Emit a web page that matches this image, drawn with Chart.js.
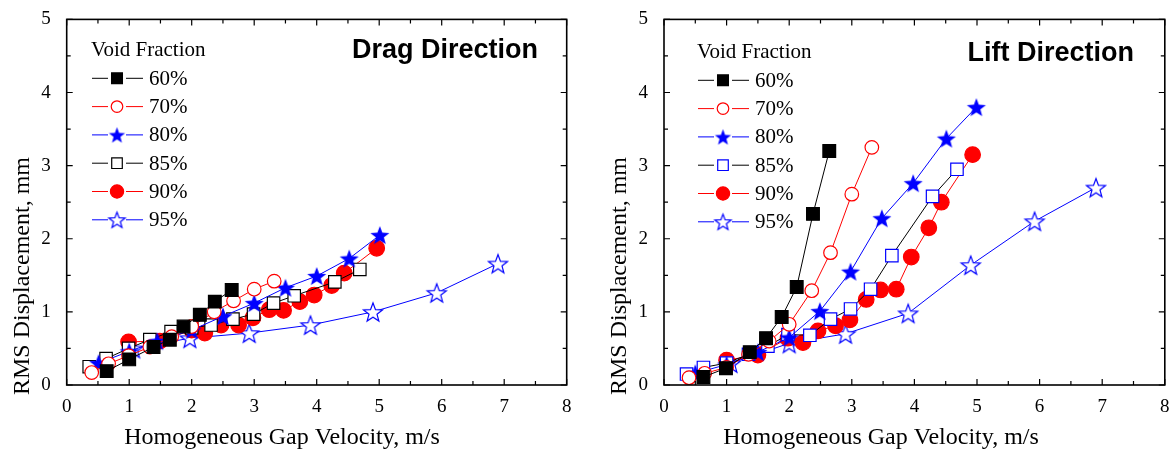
<!DOCTYPE html>
<html>
<head>
<meta charset="utf-8">
<script src="https://cdn.jsdelivr.net/npm/chart.js@4.4.0/dist/chart.umd.min.js"></script>
<style>
  html, body { margin: 0; padding: 0; background: #fff; }
  #wrap { position: relative; width: 1176px; height: 456px; }
  .panel { position: absolute; top: 0; width: 588px; height: 456px; }
</style>
</head>
<body>
<div id="wrap">
  <div class="panel" style="left:0"><canvas id="graficaDrag"></canvas></div>
  <div class="panel" style="left:588px"><canvas id="graficaLift"></canvas></div>
</div>
<script>
// series labels
const fracciones = ['60%', '70%', '80%', '85%', '90%', '95%'];

// Drag direction: velocity (m/s) and RMS displacement (mm)
const dragV60 = [0.64, 1.0, 1.39, 1.65, 1.87, 2.13, 2.37, 2.64];
const dragD60 = [0.19, 0.35, 0.52, 0.62, 0.80, 0.96, 1.14, 1.30];
const dragV70 = [0.40, 0.67, 0.99, 1.33, 1.68, 2.0, 2.36, 2.67, 3.0, 3.32];
const dragD70 = [0.17, 0.29, 0.40, 0.52, 0.66, 0.80, 1.0, 1.15, 1.31, 1.42];
const dragV80 = [0.51, 1.0, 1.45, 2.0, 2.5, 3.0, 3.5, 4.0, 4.52, 5.01];
const dragD80 = [0.30, 0.46, 0.60, 0.75, 0.94, 1.12, 1.33, 1.49, 1.73, 2.05];
const dragV85 = [0.36, 0.63, 0.99, 1.33, 1.67, 2.0, 2.31, 2.66, 2.99, 3.31, 3.64, 4.29, 4.69];
const dragD85 = [0.25, 0.36, 0.50, 0.62, 0.73, 0.78, 0.82, 0.90, 0.97, 1.12, 1.22, 1.41, 1.58];
const dragV90 = [0.99, 1.49, 2.0, 2.21, 2.47, 2.75, 2.98, 3.24, 3.47, 3.73, 3.96, 4.24, 4.44, 4.96];
const dragD90 = [0.59, 0.60, 0.75, 0.71, 0.82, 0.82, 0.92, 1.03, 1.02, 1.14, 1.23, 1.36, 1.53, 1.87];
const dragV95 = [1.07, 1.97, 2.92, 3.90, 4.90, 5.92, 6.90];
const dragD95 = [0.50, 0.64, 0.71, 0.82, 1.0, 1.26, 1.66];

// Lift direction
const liftV60 = [0.63, 0.99, 1.37, 1.63, 1.88, 2.12, 2.38, 2.64];
const liftD60 = [0.11, 0.23, 0.45, 0.64, 0.93, 1.34, 2.34, 3.20];
const liftV70 = [0.40, 0.65, 1.0, 1.35, 1.68, 2.0, 2.36, 2.66, 3.0, 3.32];
const liftD70 = [0.10, 0.16, 0.24, 0.42, 0.60, 0.83, 1.29, 1.81, 2.61, 3.25];
const liftV80 = [0.50, 1.0, 1.5, 2.0, 2.49, 2.98, 3.48, 3.98, 4.51, 4.99];
const liftD80 = [0.16, 0.28, 0.45, 0.65, 1.01, 1.55, 2.28, 2.76, 3.37, 3.80];
const liftV85 = [0.36, 0.63, 1.0, 1.35, 1.66, 1.98, 2.33, 2.66, 2.98, 3.30, 3.64, 4.29, 4.68];
const liftD85 = [0.15, 0.24, 0.30, 0.42, 0.53, 0.69, 0.68, 0.90, 1.04, 1.31, 1.77, 2.58, 2.95];
const liftV90 = [1.0, 1.5, 1.98, 2.22, 2.46, 2.74, 2.97, 3.23, 3.46, 3.71, 3.95, 4.23, 4.43, 4.93];
const liftD90 = [0.34, 0.41, 0.64, 0.58, 0.74, 0.81, 0.89, 1.17, 1.30, 1.31, 1.75, 2.15, 2.50, 3.15];
const liftV95 = [1.07, 2.0, 2.9, 3.9, 4.9, 5.92, 6.9];
const liftD95 = [0.30, 0.57, 0.70, 0.98, 1.64, 2.24, 2.70];

const SERIF = '"Liberation Serif", "Times New Roman", serif';
const SANS = '"Liberation Sans", Arial, sans-serif';

// estrella de 5 puntas como pointStyle
function hacerEstrella(color, relleno, R) {
    const c = document.createElement('canvas');
    const s = Math.ceil(2 * R + 4);
    c.width = s; c.height = s;
    const g = c.getContext('2d');
    const r = R * 0.42;
    g.beginPath();
    for (let i = 0; i < 10; i++) {
        const a = -Math.PI / 2 + i * Math.PI / 5;
        const rr = i % 2 === 0 ? R : r;
        const px = s / 2 + rr * Math.cos(a);
        const py = s / 2 + rr * Math.sin(a) + R * 0.1;
        if (i === 0) g.moveTo(px, py); else g.lineTo(px, py);
    }
    g.closePath();
    if (relleno) { g.fillStyle = color; g.fill(); }
    else { g.fillStyle = '#fff'; g.fill(); g.lineWidth = 1.2; g.strokeStyle = color; g.stroke(); }
    return c;
}

const estrellaLlena = hacerEstrella('#0000ff', true, 10);
const estrellaVacia = hacerEstrella('#0000ff', false, 10);
const estrellaLlenaLeyenda = hacerEstrella('#0000ff', true, 8.5);
const estrellaVaciaLeyenda = hacerEstrella('#0000ff', false, 8.5);

function puntos(xs, ys) {
    return xs.map((x, i) => ({ x: x, y: ys[i] }));
}

// estilos de cada serie
function estilos(lift) {
    return [
        { line: '#000', border: '#000', fill: '#000', style: 'rect', radius: 9 },
        { line: '#ff0000', border: '#ff0000', fill: '#fff', style: 'circle', radius: 6.8 },
        { line: '#0000ff', border: '#0000ff', fill: '#0000ff', style: estrellaLlena, leg: estrellaLlenaLeyenda, radius: 10 },
        { line: '#000', border: lift ? '#0000ff' : '#000', fill: '#fff', style: 'rect', radius: 8.8 },
        { line: '#ff0000', border: '#ff0000', fill: '#ff0000', style: 'circle', radius: 7.8 },
        { line: '#0000ff', border: '#0000ff', fill: '#fff', style: estrellaVacia, leg: estrellaVaciaLeyenda, radius: 10 }
    ];
}

const marcoPlugin = {
    id: 'marco',
    afterDraw(chart, args, opts) {
        const ctx = chart.ctx;
        const a = chart.chartArea;
        const sx = chart.scales.x, sy = chart.scales.y;
        ctx.save();
        ctx.strokeStyle = '#000';
        ctx.lineWidth = 1.6;
        ctx.strokeRect(a.left, a.top, a.right - a.left, a.bottom - a.top);
        ctx.lineWidth = 1.2;
        ctx.beginPath();
        for (let v = 0; v <= 8; v += 0.5) {
            const px = sx.getPixelForValue(v);
            const len = Number.isInteger(v) ? 6 : 4;
            ctx.moveTo(px, a.bottom); ctx.lineTo(px, a.bottom - len);
            ctx.moveTo(px, a.top); ctx.lineTo(px, a.top + len);
        }
        for (let v = 0; v <= 5; v += 0.5) {
            const py = sy.getPixelForValue(v);
            const len = Number.isInteger(v) ? 6 : 4;
            ctx.moveTo(a.left, py); ctx.lineTo(a.left + len, py);
            ctx.moveTo(a.right, py); ctx.lineTo(a.right - len, py);
        }
        ctx.stroke();

        // titulos de ejes
        ctx.fillStyle = '#000';
        ctx.font = '24px ' + SERIF;
        ctx.textAlign = 'center';
        ctx.textBaseline = 'middle';
        ctx.fillText('Homogeneous Gap Velocity, m/s', opts.xTitleX, 438);
        ctx.save();
        ctx.translate(opts.yTitleX, opts.yTitleY);
        ctx.rotate(-Math.PI / 2);
        ctx.fillText('RMS Displacement, mm', 0, 0);
        ctx.restore();

        // titulo del panel
        ctx.font = 'bold 27px ' + SANS;
        ctx.textAlign = 'right';
        ctx.fillText(opts.panel, opts.panelX, opts.panelY);

        // leyenda
        ctx.font = '21px ' + SERIF;
        ctx.textAlign = 'left';
        ctx.fillText('Void Fraction', opts.legX, opts.legY);
        const est = estilos(opts.lift);
        for (let i = 0; i < 6; i++) {
            const y = opts.legY + 28.3 * (i + 1);
            const x0 = opts.legX + 1, mx = x0 + 25, x1 = x0 + 51;
            ctx.strokeStyle = est[i].line;
            ctx.lineWidth = 1;
            ctx.beginPath();
            ctx.moveTo(x0, y); ctx.lineTo(mx - 9, y);
            ctx.moveTo(mx + 9, y); ctx.lineTo(x1, y);
            ctx.stroke();
            ctx.fillStyle = est[i].fill;
            ctx.strokeStyle = est[i].border;
            ctx.lineWidth = 1.2;
            Chart.helpers.drawPoint(ctx, { pointStyle: est[i].leg || est[i].style, radius: est[i].radius * 0.85, rotation: 0, borderWidth: 1.2 }, mx, y);
            ctx.fillStyle = '#000';
            ctx.fillText(fracciones[i], x1 + 6, y + 1);
        }
        ctx.restore();
    }
};

function crearGrafica(id, series, cfg) {
    const est = estilos(cfg.lift);
    const datasets = series.map((s, i) => ({
        label: fracciones[i],
        data: puntos(s[0], s[1]),
        showLine: true,
        borderColor: est[i].line,
        borderWidth: 1,
        pointStyle: est[i].style,
        pointRadius: est[i].radius,
        pointBackgroundColor: est[i].fill,
        pointBorderColor: est[i].border,
        pointBorderWidth: 1.2,
        tension: 0
    }));
    const ctx = document.getElementById(id).getContext('2d');
    return new Chart(ctx, {
        type: 'scatter',
        data: { datasets: datasets },
        options: {
            responsive: true,
            maintainAspectRatio: false,
            animation: false,
            layout: { padding: { left: 0, right: cfg.padRight, top: 19, bottom: 0 } },
            scales: {
                x: {
                    type: 'linear', min: 0, max: 8,
                    grid: { display: false },
                    border: { display: false },
                    ticks: { stepSize: 1, padding: 3, color: '#000', font: { family: SERIF, size: 19 } },
                    afterFit: s => { s.height = 71; }
                },
                y: {
                    min: 0, max: 5,
                    grid: { display: false },
                    border: { display: false },
                    ticks: { stepSize: 1, padding: 8, color: '#000', font: { family: SERIF, size: 19 } },
                    afterFit: s => { s.width = cfg.yWidth; }
                }
            },
            plugins: {
                legend: { display: false },
                tooltip: { enabled: false },
                marco: cfg
            }
        },
        plugins: [marcoPlugin]
    });
}

crearGrafica('graficaDrag', [
    [dragV60, dragD60], [dragV70, dragD70], [dragV80, dragD80],
    [dragV85, dragD85], [dragV90, dragD90], [dragV95, dragD95]
], { lift: false, padRight: 21.3, yWidth: 66.7, xTitleX: 282, yTitleX: 23, yTitleY: 276,
     panel: 'Drag Direction', panelX: 538, panelY: 51, legX: 91, legY: 50 });

crearGrafica('graficaLift', [
    [liftV60, liftD60], [liftV70, liftD70], [liftV80, liftD80],
    [liftV85, liftD85], [liftV90, liftD90], [liftV95, liftD95]
], { lift: true, padRight: 10.3, yWidth: 76, xTitleX: 293, yTitleX: 32, yTitleY: 276,
     panel: 'Lift Direction', panelX: 546, panelY: 54, legX: 109, legY: 52 });
</script>
</body>
</html>
